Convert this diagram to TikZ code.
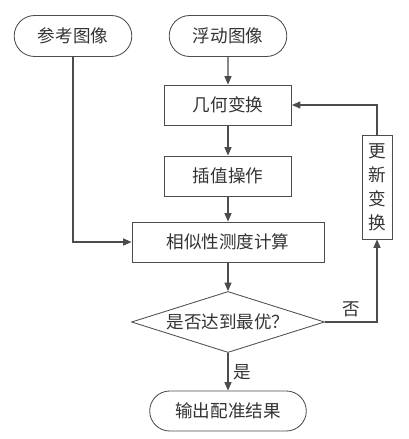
\documentclass[tikz,border=0pt]{standalone}
\usepackage{fontspec}
\newfontfamily\cjk{Noto Sans CJK SC}
\usetikzlibrary{arrows.meta,shapes.geometric,shapes.misc}

\tikzset{
  every node/.style={font=\cjk\fontsize{12.5pt}{17pt}\selectfont, text=black!80},
  term/.style={draw=black!70, line width=0.6pt, rounded rectangle, minimum width=3.175cm, minimum height=1.025cm},
  proc/.style={draw=black!70, line width=0.6pt, rectangle, minimum width=3.175cm, minimum height=1cm},
  decide/.style={draw=black!70, line width=0.6pt, diamond, aspect=3.2, inner sep=0pt, minimum width=4.825cm, minimum height=1.525cm},
  arr/.style={draw=black!70, line width=0.8pt, -{Triangle[length=6pt,width=5pt]}}
}

\begin{document}
\begin{tikzpicture}
\useasboundingbox (0,0) rectangle (10.225,-10.975);

\node[term] (ref) at (1.825,-0.9) {参考图像};
\node[term] (float) at (5.7,-0.9) {浮动图像};
\node[proc] (geom) at (5.7,-2.625) {几何变换};
\node[proc] (interp) at (5.7,-4.4) {插值操作};
\node[proc, minimum width=4.8cm] (sim) at (5.7,-6.05) {相似性测度计算};
\node[decide] (judge) at (5.7,-8.05) {是否达到最优？};
\node[term, minimum width=4.15cm, minimum height=1cm] (out) at (5.7,-10.275) {输出配准结果};
\node[proc, minimum width=0.75cm, minimum height=2.6cm, inner sep=1pt, align=center] (update) at (9.425,-4.675) {更\\新\\变\\换};

\draw[arr] (float) -- (geom);
\draw[arr] (geom) -- (interp);
\draw[arr] (interp) -- (sim);
\draw[arr] (ref.south) |- (sim.west);
\draw[arr] (sim) -- (judge);
\draw[arr] (judge.south) -- node[right] {是} (out.north);
\draw[arr] (judge.east) -| node[pos=0.25, above] {否} (update.south);
\draw[arr] (update.north) |- (geom.east);
\end{tikzpicture}
\end{document}
